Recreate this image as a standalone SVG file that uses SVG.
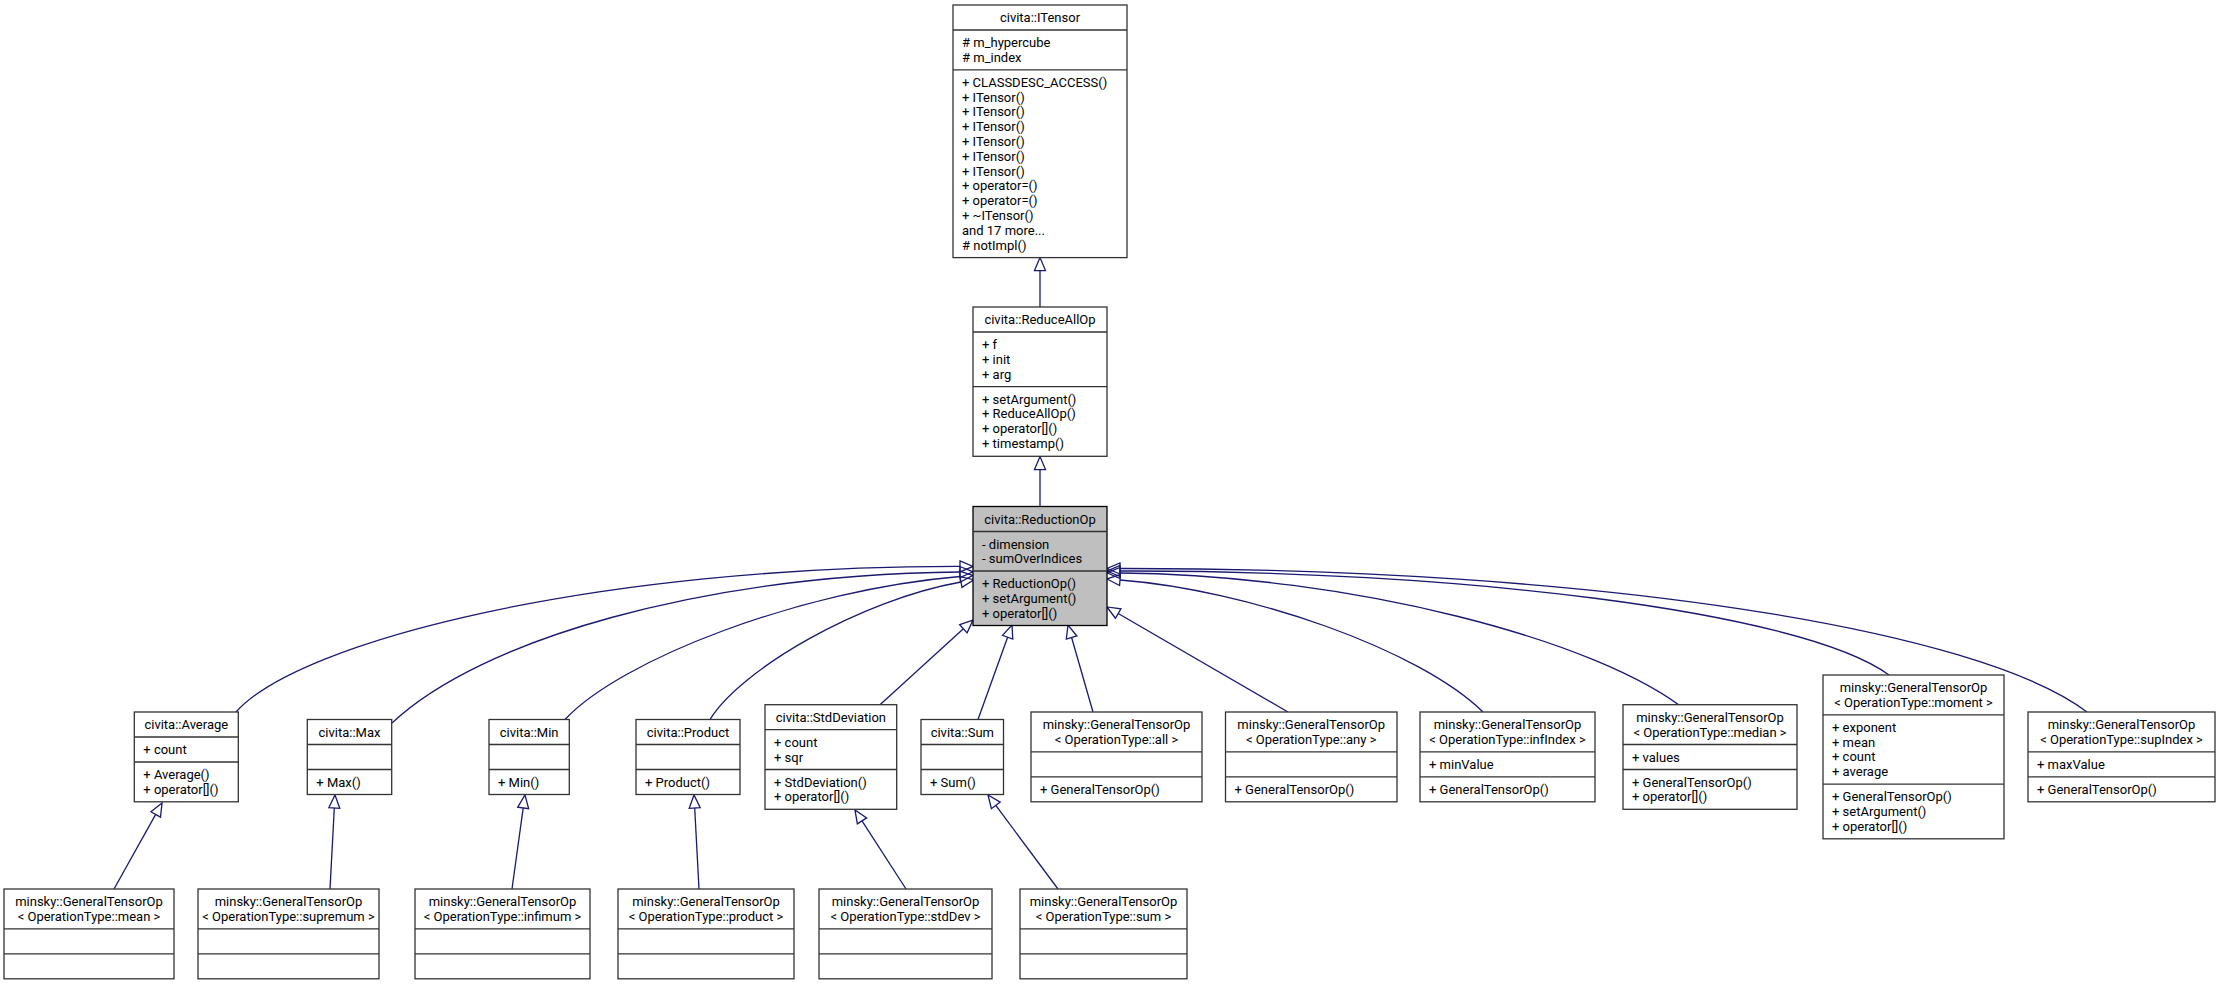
<svg xmlns="http://www.w3.org/2000/svg" width="2219" height="985" viewBox="0 0 2219 985">
<defs>
<style>
.bx{fill:#fff;stroke:#333;stroke-width:1.3}
.hl{fill:#bfbfbf;stroke:#000;stroke-width:1.3}
.sp{stroke:#333;stroke-width:1.3}
text{font-family:Roboto,"Liberation Sans",sans-serif;font-size:13px;fill:#000}
.c{text-anchor:middle}
.e{fill:none;stroke:#191970;stroke-width:1.3;marker-end:url(#tri)}
</style>
<marker id="tri" markerUnits="userSpaceOnUse" markerWidth="16" markerHeight="14" refX="0" refY="6" orient="auto" overflow="visible">
<path d="M0,0.5 L13,6 L0,11.5 Z" fill="none" stroke="#191970" stroke-width="1.3"/>
</marker>
</defs>
<rect width="2219" height="985" fill="#fff"/>
<g id="connectors">
<path class="e" d="M1040,307 L1040,270.6"/>
<path class="e" d="M1040,506.5 L1040,469.6"/>
<path class="e" d="M236,712 C300,640 600,566 960,566.4"/>
<path class="e" d="M392,723 C480,640 700,575 960,572"/>
<path class="e" d="M565,719.5 C620,660 800,590 960,576.5"/>
<path class="e" d="M710,719.5 C740,670 860,600 961,582"/>
<path class="e" d="M880,704.7 L963.4,628.8"/>
<path class="e" d="M978,719.5 L1007.6,637.2"/>
<path class="e" d="M1093,712 L1071.6,637.5"/>
<path class="e" d="M1288,712 L1118.2,613.5"/>
<path class="e" d="M1483,712 C1420,650 1250,590 1120,580"/>
<path class="e" d="M1688,712 C1600,640 1350,575 1120,573"/>
<path class="e" d="M1889,675 C1800,610 1450,570 1120,571"/>
<path class="e" d="M2087,712 C1980,630 1600,568 1120,568.5"/>
<path class="e" d="M114,889 L155.7,814.4"/>
<path class="e" d="M330,889 L334.3,808"/>
<path class="e" d="M512,889 L523.2,807.9"/>
<path class="e" d="M699,889 L694.7,808"/>
<path class="e" d="M906,889 L862,820.9"/>
<path class="e" d="M1058,889 L995.8,805.4"/>
</g>
<g id="n_ITensor">
<rect class="bx" x="953" y="5" width="174" height="252.6"/>
<line class="sp" x1="953" y1="30" x2="1127" y2="30"/>
<line class="sp" x1="953" y1="69.8" x2="1127" y2="69.8"/>
<text class="c" x="1040" y="22">civita::ITensor</text>
<text x="962" y="47">#&#160;m_hypercube</text>
<text x="962" y="61.8"># m_index</text>
<text x="962" y="86.8">+ CLASSDESC_ACCESS()</text>
<text x="962" y="101.6">+ ITensor()</text>
<text x="962" y="116.4">+ ITensor()</text>
<text x="962" y="131.2">+ ITensor()</text>
<text x="962" y="146">+ ITensor()</text>
<text x="962" y="160.8">+ ITensor()</text>
<text x="962" y="175.6">+ ITensor()</text>
<text x="962" y="190.4">+ operator=()</text>
<text x="962" y="205.2">+ operator=()</text>
<text x="962" y="220">+ ~ITensor()</text>
<text x="962" y="234.8">and 17 more...</text>
<text x="962" y="249.6"># notImpl()</text>
</g>
<g id="n_ReduceAllOp">
<rect class="bx" x="973" y="307" width="134" height="149.3"/>
<line class="sp" x1="973" y1="332" x2="1107" y2="332"/>
<line class="sp" x1="973" y1="386.6" x2="1107" y2="386.6"/>
<text class="c" x="1040" y="324">civita::ReduceAllOp</text>
<text x="982" y="349">+ f</text>
<text x="982" y="363.8">+ init</text>
<text x="982" y="378.6">+ arg</text>
<text x="982" y="403.6">+ setArgument()</text>
<text x="982" y="418.4">+ ReduceAllOp()</text>
<text x="982" y="433.2">+ operator[]()</text>
<text x="982" y="448">+ timestamp()</text>
</g>
<g id="n_ReductionOp">
<rect class="hl" x="973" y="506.5" width="134" height="119"/>
<line class="sp" x1="973" y1="531.5" x2="1107" y2="531.5" stroke="#000"/>
<line class="sp" x1="973" y1="571" x2="1107" y2="571" stroke="#000"/>
<text class="c" x="1040" y="523.5">civita::ReductionOp</text>
<text x="982" y="548.5">- dimension</text>
<text x="982" y="563.3">- sumOverIndices</text>
<text x="982" y="588">+ ReductionOp()</text>
<text x="982" y="602.8">+ setArgument()</text>
<text x="982" y="617.6">+ operator[]()</text>
</g>
<g id="n_Average">
<rect class="bx" x="134.3" y="712" width="104" height="89.8"/>
<line class="sp" x1="134.3" y1="737" x2="238.3" y2="737"/>
<line class="sp" x1="134.3" y1="762" x2="238.3" y2="762"/>
<text class="c" x="186.3" y="729">civita::Average</text>
<text x="143.3" y="754">+ count</text>
<text x="143.3" y="779">+ Average()</text>
<text x="143.3" y="793.8">+ operator[]()</text>
</g>
<g id="n_Max">
<rect class="bx" x="307.3" y="719.5" width="84.4" height="75"/>
<line class="sp" x1="307.3" y1="744.5" x2="391.7" y2="744.5"/>
<line class="sp" x1="307.3" y1="769.5" x2="391.7" y2="769.5"/>
<text class="c" x="349.5" y="736.5">civita::Max</text>
<text x="316.3" y="786.5">+ Max()</text>
</g>
<g id="n_Min">
<rect class="bx" x="489" y="719.5" width="80.3" height="75"/>
<line class="sp" x1="489" y1="744.5" x2="569.3" y2="744.5"/>
<line class="sp" x1="489" y1="769.5" x2="569.3" y2="769.5"/>
<text class="c" x="529.2" y="736.5">civita::Min</text>
<text x="498" y="786.5">+ Min()</text>
</g>
<g id="n_Product">
<rect class="bx" x="636" y="719.5" width="104" height="75"/>
<line class="sp" x1="636" y1="744.5" x2="740" y2="744.5"/>
<line class="sp" x1="636" y1="769.5" x2="740" y2="769.5"/>
<text class="c" x="688" y="736.5">civita::Product</text>
<text x="645" y="786.5">+ Product()</text>
</g>
<g id="n_StdDeviation">
<rect class="bx" x="765" y="704.7" width="131.7" height="104.6"/>
<line class="sp" x1="765" y1="729.7" x2="896.7" y2="729.7"/>
<line class="sp" x1="765" y1="769.5" x2="896.7" y2="769.5"/>
<text class="c" x="830.9" y="721.7">civita::StdDeviation</text>
<text x="774" y="746.7">+ count</text>
<text x="774" y="761.5">+ sqr</text>
<text x="774" y="786.5">+ StdDeviation()</text>
<text x="774" y="801.3">+ operator[]()</text>
</g>
<g id="n_Sum">
<rect class="bx" x="921" y="719.5" width="82.5" height="75"/>
<line class="sp" x1="921" y1="744.5" x2="1003.5" y2="744.5"/>
<line class="sp" x1="921" y1="769.5" x2="1003.5" y2="769.5"/>
<text class="c" x="962.3" y="736.5">civita::Sum</text>
<text x="930" y="786.5">+ Sum()</text>
</g>
<g id="n_GTO_all">
<rect class="bx" x="1031" y="712" width="171" height="89.8"/>
<line class="sp" x1="1031" y1="751.8" x2="1202" y2="751.8"/>
<line class="sp" x1="1031" y1="776.8" x2="1202" y2="776.8"/>
<text class="c" x="1116.5" y="729">minsky::GeneralTensorOp</text>
<text class="c" x="1116.5" y="743.8">&lt; OperationType::all &gt;</text>
<text x="1040" y="793.8">+ GeneralTensorOp()</text>
</g>
<g id="n_GTO_any">
<rect class="bx" x="1225.5" y="712" width="171.5" height="89.8"/>
<line class="sp" x1="1225.5" y1="751.8" x2="1397" y2="751.8"/>
<line class="sp" x1="1225.5" y1="776.8" x2="1397" y2="776.8"/>
<text class="c" x="1311.2" y="729">minsky::GeneralTensorOp</text>
<text class="c" x="1311.2" y="743.8">&lt; OperationType::any &gt;</text>
<text x="1234.5" y="793.8">+ GeneralTensorOp()</text>
</g>
<g id="n_GTO_infIndex">
<rect class="bx" x="1420" y="712" width="175" height="89.8"/>
<line class="sp" x1="1420" y1="751.8" x2="1595" y2="751.8"/>
<line class="sp" x1="1420" y1="776.8" x2="1595" y2="776.8"/>
<text class="c" x="1507.5" y="729">minsky::GeneralTensorOp</text>
<text class="c" x="1507.5" y="743.8">&lt; OperationType::infIndex &gt;</text>
<text x="1429" y="768.8">+ minValue</text>
<text x="1429" y="793.8">+ GeneralTensorOp()</text>
</g>
<g id="n_GTO_median">
<rect class="bx" x="1623" y="704.7" width="174" height="104.6"/>
<line class="sp" x1="1623" y1="744.5" x2="1797" y2="744.5"/>
<line class="sp" x1="1623" y1="769.5" x2="1797" y2="769.5"/>
<text class="c" x="1710" y="721.7">minsky::GeneralTensorOp</text>
<text class="c" x="1710" y="736.5">&lt; OperationType::median &gt;</text>
<text x="1632" y="761.5">+ values</text>
<text x="1632" y="786.5">+ GeneralTensorOp()</text>
<text x="1632" y="801.3">+ operator[]()</text>
</g>
<g id="n_GTO_moment">
<rect class="bx" x="1823" y="675" width="181" height="163.8"/>
<line class="sp" x1="1823" y1="714.8" x2="2004" y2="714.8"/>
<line class="sp" x1="1823" y1="784.2" x2="2004" y2="784.2"/>
<text class="c" x="1913.5" y="692">minsky::GeneralTensorOp</text>
<text class="c" x="1913.5" y="706.8">&lt; OperationType::moment &gt;</text>
<text x="1832" y="731.8">+ exponent</text>
<text x="1832" y="746.6">+ mean</text>
<text x="1832" y="761.4">+ count</text>
<text x="1832" y="776.2">+ average</text>
<text x="1832" y="801.2">+ GeneralTensorOp()</text>
<text x="1832" y="816">+ setArgument()</text>
<text x="1832" y="830.8">+ operator[]()</text>
</g>
<g id="n_GTO_supIndex">
<rect class="bx" x="2028" y="712" width="187" height="89.8"/>
<line class="sp" x1="2028" y1="751.8" x2="2215" y2="751.8"/>
<line class="sp" x1="2028" y1="776.8" x2="2215" y2="776.8"/>
<text class="c" x="2121.5" y="729">minsky::GeneralTensorOp</text>
<text class="c" x="2121.5" y="743.8">&lt; OperationType::supIndex &gt;</text>
<text x="2037" y="768.8">+ maxValue</text>
<text x="2037" y="793.8">+ GeneralTensorOp()</text>
</g>
<g id="n_GTO_mean">
<rect class="bx" x="4" y="889" width="170" height="89.8"/>
<line class="sp" x1="4" y1="928.8" x2="174" y2="928.8"/>
<line class="sp" x1="4" y1="953.8" x2="174" y2="953.8"/>
<text class="c" x="89" y="906">minsky::GeneralTensorOp</text>
<text class="c" x="89" y="920.8">&lt; OperationType::mean &gt;</text>
</g>
<g id="n_GTO_supremum">
<rect class="bx" x="198" y="889" width="181" height="89.8"/>
<line class="sp" x1="198" y1="928.8" x2="379" y2="928.8"/>
<line class="sp" x1="198" y1="953.8" x2="379" y2="953.8"/>
<text class="c" x="288.5" y="906">minsky::GeneralTensorOp</text>
<text class="c" x="288.5" y="920.8">&lt; OperationType::supremum &gt;</text>
</g>
<g id="n_GTO_infimum">
<rect class="bx" x="415" y="889" width="175" height="89.8"/>
<line class="sp" x1="415" y1="928.8" x2="590" y2="928.8"/>
<line class="sp" x1="415" y1="953.8" x2="590" y2="953.8"/>
<text class="c" x="502.5" y="906">minsky::GeneralTensorOp</text>
<text class="c" x="502.5" y="920.8">&lt; OperationType::infimum &gt;</text>
</g>
<g id="n_GTO_product">
<rect class="bx" x="618" y="889" width="176" height="89.8"/>
<line class="sp" x1="618" y1="928.8" x2="794" y2="928.8"/>
<line class="sp" x1="618" y1="953.8" x2="794" y2="953.8"/>
<text class="c" x="706" y="906">minsky::GeneralTensorOp</text>
<text class="c" x="706" y="920.8">&lt; OperationType::product &gt;</text>
</g>
<g id="n_GTO_stdDev">
<rect class="bx" x="819" y="889" width="173" height="89.8"/>
<line class="sp" x1="819" y1="928.8" x2="992" y2="928.8"/>
<line class="sp" x1="819" y1="953.8" x2="992" y2="953.8"/>
<text class="c" x="905.5" y="906">minsky::GeneralTensorOp</text>
<text class="c" x="905.5" y="920.8">&lt; OperationType::stdDev &gt;</text>
</g>
<g id="n_GTO_sum">
<rect class="bx" x="1020" y="889" width="167" height="89.8"/>
<line class="sp" x1="1020" y1="928.8" x2="1187" y2="928.8"/>
<line class="sp" x1="1020" y1="953.8" x2="1187" y2="953.8"/>
<text class="c" x="1103.5" y="906">minsky::GeneralTensorOp</text>
<text class="c" x="1103.5" y="920.8">&lt; OperationType::sum &gt;</text>
</g>
</svg>
